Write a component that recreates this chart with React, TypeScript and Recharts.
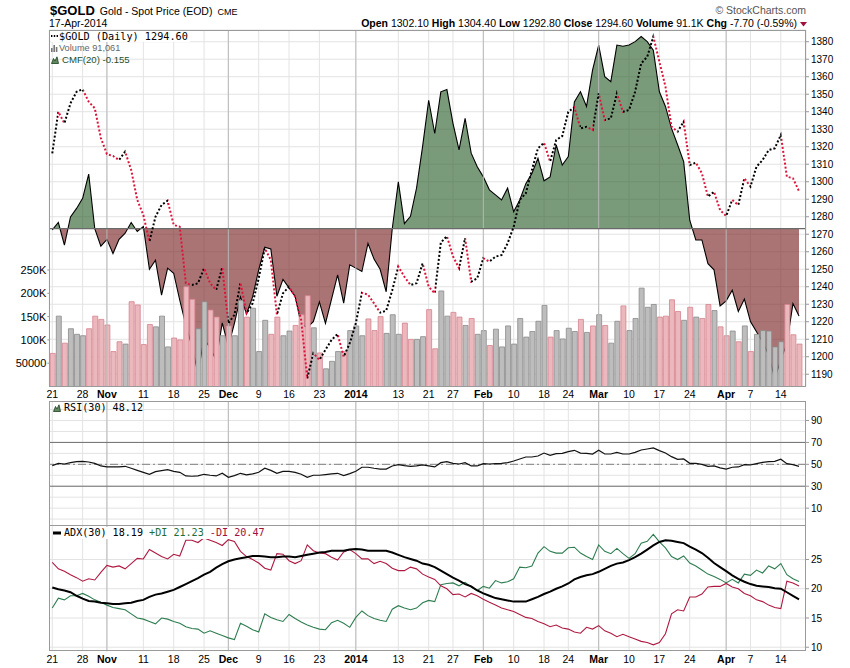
import React from 'react'
import { ComposedChart, Line, Bar, Area, Cell, XAxis, YAxis, CartesianGrid, ReferenceLine } from 'recharts'

// $GOLD daily, 21-Oct-2013 .. 17-Apr-2014 (trading days, US holidays skipped)
const close = [
  1316.2, 1340, 1333.4, 1344.8, 1351.4, 1352.8, 1345.7, 1342, 1325, 1315.8,
  1314.7, 1312.4, 1317.2, 1306.7, 1289.6, 1281, 1265.8, 1280, 1286.7, 1289.2,
  1275.3, 1274.3, 1242, 1241, 1242, 1250.6, 1242, 1238.2, 1251.1, 1219.1,
  1223.9, 1242.3, 1224.8, 1230.5, 1244.8, 1262, 1255.3, 1224, 1236.3, 1240,
  1234.3, 1221, 1187.7, 1202, 1198.2, 1204, 1209.6, 1213, 1200, 1207.7,
  1219.1, 1236.5, 1235.5, 1230.5, 1225.2, 1226.3, 1238, 1251.5, 1245.7, 1241,
  1242, 1253.4, 1240, 1236.3, 1265.2, 1268.9, 1257.4, 1250.6, 1267.8, 1242.9,
  1244.8, 1256.3, 1254.4, 1257.2, 1258.1, 1264.8, 1274.3, 1289.6, 1293.4, 1306.7,
  1319.1, 1322.3, 1311.5, 1323.8, 1326.1, 1340, 1342.5, 1330.5, 1331.4, 1329.6,
  1350.5, 1335.3, 1336.2, 1350.5, 1340, 1341, 1351.4, 1367.6, 1371.4, 1382.9,
  1368.6, 1354.3, 1331.4, 1328.6, 1334.3, 1309.5, 1310.9, 1304.8, 1291.5, 1294.3,
  1283.8, 1280.4, 1289.6, 1286.7, 1302, 1297.2, 1308.6, 1312.4, 1318.1, 1319.1,
  1326.7, 1302.9, 1302, 1294.6,
]
const priorClose = 1318

// thousands of contracts
const volume = [
  71, 151, 93, 124, 112, 109, 124, 151, 144, 132,
  75, 96, 91, 182, 175, 90, 133, 128, 151, 85,
  104, 100, 214, 187, 124, 182, 164, 149, 109, 130,
  109, 185, 149, 168, 75, 142, 112, 149, 109, 119,
  131, 154, 195, 126, 72, 38, 54, 75, 75, 120,
  130, 109, 145, 120, 150, 114, 154, 112, 136, 101,
  101, 107, 165, 81, 205, 151, 159, 149, 131, 146,
  112, 120, 88, 123, 85, 130, 91, 146, 106, 118,
  140, 174, 106, 120, 102, 125, 118, 144, 116, 130,
  154, 131, 93, 140, 173, 120, 146, 211, 170, 176,
  149, 151, 186, 161, 142, 170, 149, 146, 176, 163,
  128, 109, 119, 96, 130, 75, 112, 120, 119, 85,
  96, 176, 111, 91.061,
]

const cmf = [
  -0.002, 0.011, -0.029, 0.021, 0.036, 0.054, 0.097, 0.0, -0.031, -0.019,
  -0.044, -0.019, -0.008, 0.011, -0.005, 0.004, -0.072, -0.056, -0.118, -0.07,
  -0.079, -0.127, -0.171, -0.209, -0.257, -0.195, -0.212, -0.233, -0.167, -0.209,
  -0.168, -0.121, -0.151, -0.121, -0.073, -0.033, -0.036, -0.12, -0.09, -0.105,
  -0.12, -0.17, -0.175, -0.165, -0.13, -0.168, -0.125, -0.082, -0.132, -0.064,
  -0.07, -0.076, -0.026, -0.054, -0.072, -0.112, 0.0, 0.083, 0.009, 0.022,
  0.072, 0.146, 0.228, 0.169, 0.243, 0.247, 0.187, 0.14, 0.196, 0.134,
  0.11, 0.092, 0.069, 0.06, 0.051, 0.072, 0.03, 0.051, 0.08, 0.098,
  0.125, 0.085, 0.092, 0.149, 0.113, 0.128, 0.225, 0.243, 0.217, 0.282,
  0.326, 0.27, 0.261, 0.326, 0.324, 0.326, 0.332, 0.341, 0.332, 0.317,
  0.243, 0.217, 0.178, 0.149, 0.119, 0.015, -0.02, -0.02, -0.062, -0.073,
  -0.137, -0.128, -0.109, -0.147, -0.125, -0.165, -0.183, -0.201, -0.224, -0.266,
  -0.233, -0.204, -0.133, -0.155,
]

const rsi = [
  48.8, 50.9, 50.3, 51.5, 52.4, 52.7, 52.1, 50.9, 48.5, 47.6,
  47.6, 47.6, 48.2, 46.4, 44.5, 42.7, 40.9, 43.3, 44.2, 45.1,
  43.6, 42.7, 39.4, 39.1, 39.4, 40.9, 40.0, 39.4, 41.8, 38.1,
  39.7, 41.8, 40.3, 41.2, 42.7, 46.4, 44.5, 41.8, 43.6, 43.6,
  42.7, 40.9, 38.1, 40.0, 40.0, 40.6, 41.2, 41.8, 39.7, 41.5,
  43.6, 47.3, 47.3, 46.4, 45.7, 45.7, 48.5, 49.7, 48.8, 48.2,
  48.5, 49.4, 48.5, 47.6, 51.5, 52.4, 50.9, 50.3, 51.5, 48.5,
  48.5, 50.6, 50.3, 50.6, 50.9, 51.5, 53.0, 54.9, 56.7, 56.7,
  57.6, 60.3, 58.2, 59.7, 60.0, 61.6, 62.8, 60.3, 60.0, 59.4,
  62.8, 59.4, 59.4, 60.9, 59.4, 59.4, 60.9, 63.1, 64.0, 64.9,
  62.5, 60.3, 57.0, 54.6, 54.9, 50.9, 50.9, 50.0, 48.2, 48.5,
  46.7, 45.7, 47.3, 47.6, 49.7, 49.4, 50.6, 51.8, 52.4, 52.7,
  54.6, 50.6, 49.7, 48.12,
]

const adx = [
  20.2, 19.9, 19.7, 19.4, 18.8, 18.3, 17.9, 17.8, 17.6, 17.5,
  17.4, 17.4, 17.5, 17.6, 17.9, 18.1, 18.6, 19.0, 19.2, 19.5,
  19.8, 20.3, 20.8, 21.3, 21.8, 22.4, 22.9, 23.6, 24.2, 24.7,
  25.0, 25.2, 25.4, 25.6, 25.6, 25.5, 25.4, 25.4, 25.5, 25.5,
  25.4, 25.6, 25.8, 26.0, 26.2, 26.3, 26.5, 26.5, 26.5, 26.7,
  26.8, 26.7, 26.5, 26.5, 26.5, 26.5, 26.2, 25.8, 25.4, 25.1,
  24.8, 24.3, 24.1, 23.7, 23.1, 22.5, 21.9, 21.4, 20.8, 20.4,
  19.7, 19.2, 18.8, 18.4, 18.2, 18.0, 17.8, 17.8, 17.8, 18.2,
  18.6, 19.1, 19.5, 20.0, 20.4, 20.9, 21.6, 22.0, 22.3, 22.5,
  22.9, 23.4, 23.9, 24.3, 24.5, 24.9, 25.4, 26.0, 26.7, 27.4,
  28.0, 28.3, 28.2, 28.0, 27.8, 27.2, 26.7, 26.1, 25.3, 24.4,
  23.7, 23.0, 22.3, 21.7, 21.2, 20.8, 20.5, 20.4, 20.3, 20.1,
  20.0, 19.4, 18.8, 18.19,
]

const plusDI = [
  16.7, 18.4, 18.1, 18.8, 18.8, 19.2, 18.7, 18.1, 17.7, 17.2,
  16.8, 16.6, 16.4, 15.7, 15.0, 14.8, 14.4, 14.0, 15.0, 14.8,
  14.4, 14.1, 13.5, 13.2, 13.1, 12.4, 12.8, 12.4, 12.0, 11.6,
  11.3, 14.1, 13.6, 13.0, 12.6, 15.7, 15.1, 14.7, 14.4, 15.6,
  14.9, 14.3, 13.8, 13.4, 13.1, 13.0, 14.2, 14.6, 14.1, 13.4,
  15.1, 16.2, 15.4, 14.9, 14.6, 14.4, 16.5, 17.1, 16.7, 16.4,
  16.7, 17.6, 18.0, 17.8, 20.7, 20.9, 21.0, 20.5, 21.1, 20.3,
  19.7, 20.4, 20.1, 21.4, 21.0, 21.2, 21.7, 23.7, 23.6, 23.9,
  26.1, 27.2, 26.4, 26.1, 26.1, 27.0, 27.1, 26.1, 25.5, 25.0,
  27.5, 26.4, 26.0, 26.9, 26.0, 25.2, 26.0, 27.8, 28.1, 29.3,
  28.0, 27.0, 25.5, 25.0, 25.6, 24.4, 23.9, 23.2, 22.5, 22.1,
  21.6, 21.0, 21.6, 21.0, 22.5, 22.3, 23.2, 22.7, 23.9, 23.4,
  24.3, 22.4, 21.7, 21.23,
]

const minusDI = [
  24.5, 23.4, 23.0, 22.4, 21.9, 21.3, 21.7, 21.5, 22.8, 24.0,
  23.7, 23.9, 23.4, 24.3, 25.2, 25.1, 26.7, 26.1, 25.5, 25.1,
  25.9, 25.6, 28.3, 28.3, 27.9, 28.7, 28.3, 27.9, 27.4, 28.4,
  28.1, 26.4, 25.5, 25.0, 24.4, 23.5, 23.2, 26.0, 25.9, 24.8,
  24.3, 24.8, 27.5, 26.5, 26.1, 26.0, 25.4, 24.9, 26.3, 26.7,
  26.0, 25.1, 25.1, 24.3, 24.7, 24.3, 23.5, 23.1, 23.1, 23.7,
  23.4, 22.5, 22.0, 21.6, 20.5, 20.0, 19.0, 19.1, 18.6, 19.2,
  18.8, 18.2, 17.7, 17.2, 16.7, 16.4, 16.1, 15.6, 15.1, 14.9,
  14.4, 14.0, 13.5, 13.8, 13.3, 13.1, 12.6, 12.4, 13.4, 13.1,
  13.7, 12.8, 12.4, 11.8, 12.2, 11.8, 11.4, 11.0, 10.8, 10.4,
  10.8, 12.3, 15.7, 16.4, 16.2, 18.6, 18.6, 19.1, 20.3, 20.4,
  20.4, 20.9, 20.3, 20.0, 19.2, 18.8, 18.1, 17.8, 17.2, 16.8,
  16.6, 21.3, 21.0, 20.47,
]

// x-axis ticks: index into the trading-day list
const tickIdx = [0, 5, 9, 15, 20, 25, 29, 34, 39, 44, 50, 57, 62, 66, 71, 76, 81, 85, 90, 95, 100, 105, 111, 115, 120]
const tickText = ['21', '28', 'Nov', '11', '18', '25', 'Dec', '9', '16', '23', '2014', '13', '21', '27', 'Feb', '10', '18', '24', 'Mar', '10', '17', '24', 'Apr', '7', '14']
const monthIdx = [9, 29, 50, 71, 90, 111]

const priceTicks = [1190, 1200, 1210, 1220, 1230, 1240, 1250, 1260, 1270, 1280, 1290, 1300, 1310, 1320, 1330, 1340, 1350, 1360, 1370, 1380]
const volTicks = [50000, 100000, 150000, 200000, 250000]
const rsiTicks = [10, 30, 50, 70, 90]
const rsiGrid = [0, 10, 20, 30, 40, 50, 60, 70, 80, 90, 100]
const adxTicks = [10, 15, 20, 25]

const UP = '#000000'
const DOWN = '#dc143c'
const sans = '"Liberation Sans", Arial, sans-serif'
const mono = '"DejaVu Sans Mono", monospace'
const X_DOMAIN = [-0.49, 124.15]
const GRID = '#e3e3e3'
const MONTH = '#b9b9b9'

const rows = close.map((c, i) => ({
  i,
  close: c,
  vol: volume[i] * 1000,
  cmf: cmf[i],
  rsi: rsi[i],
  adx: adx[i],
  pdi: plusDI[i],
  mdi: minusDI[i],
  up: c >= (i === 0 ? priorClose : close[i - 1]),
}))

const n = rows.length
const priceStops: React.ReactNode[] = []
for (let k = 1; k < n; k++) {
  const col = rows[k].up ? UP : DOWN
  priceStops.push(<stop key={'a' + k} offset={(k - 1) / (n - 1)} stopColor={col} />)
  priceStops.push(<stop key={'b' + k} offset={k / (n - 1)} stopColor={col} />)
}
const cmfMax = Math.max(...cmf)
const cmfMin = Math.min(...cmf)
const cmfOff = cmfMax / (cmfMax - cmfMin)

const DateTick = (props: any) => {
  const { x, y, payload } = props
  const k = tickIdx.indexOf(payload.value)
  const bold = monthIdx.includes(payload.value)
  return (
    <text x={x} y={y} dy="0.71em" textAnchor="middle" fontSize={10.5} fontFamily={sans}
      fontWeight={bold ? 'bold' : 'normal'} fill="#000">
      {tickText[k]}
    </text>
  )
}

const volFmt = (v: number) => (v >= 100000 ? v / 1000 + 'K' : String(v))

const vGrid = () => [
  ...tickIdx.map((t) => <ReferenceLine key={'g' + t} x={t} stroke={GRID} />),
  ...monthIdx.map((t) => <ReferenceLine key={'m' + t} x={t} stroke={MONTH} />),
]

const Frame = ({ top, height }: { top: number; height: number }) => (
  <div style={{ position: 'absolute', left: 49, top, width: 757, height, border: '1px solid #9a9a9a', boxSizing: 'border-box', pointerEvents: 'none' }} />
)

const Mountain = () => (
  <svg width={8} height={8} style={{ marginRight: 3, verticalAlign: '-1px' }}>
    <path d="M0.5,7.5 L2.5,2.5 L4,5 L6,0.8 L7.5,7.5 Z" fill="#5f8a5f" stroke="#1d3d1d" strokeWidth={0.8} />
  </svg>
)

export default function App() {
  return (
    <div style={{ position: 'absolute', left: 0, top: 0, width: 850, height: 668, background: '#fff', fontFamily: sans, overflow: 'hidden' }}>
      {/* header */}
      <div style={{ position: 'absolute', left: 50, top: 2, whiteSpace: 'nowrap', lineHeight: '15px' }}>
        <span style={{ fontSize: 13, fontWeight: 'bold' }}>$GOLD</span>
        <span style={{ fontSize: 10.5, marginLeft: 5 }}>Gold - Spot Price (EOD)</span>
        <span style={{ fontSize: 9, marginLeft: 5 }}>CME</span>
      </div>
      <div style={{ position: 'absolute', left: 49, top: 17, fontSize: 10.5, lineHeight: '12px' }}>17-Apr-2014</div>
      <div style={{ position: 'absolute', right: 44, top: 4, fontSize: 10.5, lineHeight: '12px', color: '#555' }}>© StockCharts.com</div>
      <div style={{ position: 'absolute', right: 53, top: 17, fontSize: 10.5, lineHeight: '12px', whiteSpace: 'nowrap' }}>
        <b>Open</b> 1302.10 <b>High</b> 1304.40 <b>Low</b> 1292.80 <b>Close</b> 1294.60 <b>Volume</b> 91.1K <b>Chg</b> -7.70 (-0.59%)
      </div>
      <svg style={{ position: 'absolute', left: 800, top: 22 }} width={7} height={5}>
        <polygon points="0,0 7,0 3.5,4.5" fill="#a0103c" />
      </svg>

      {/* price / volume / CMF panel */}
      <div style={{ position: 'absolute', left: 0, top: 0 }}>
        <ComposedChart width={850} height={400} data={rows} margin={{ top: 30, right: 0, bottom: 0, left: 0 }}>
          <defs>
            <linearGradient id="priceStroke" x1="0" y1="0" x2="1" y2="0">
              {priceStops}
            </linearGradient>
            <linearGradient id="cmfFill" x1="0" y1="0" x2="0" y2="1">
              <stop offset={0} stopColor="#2f622f" stopOpacity={0.64} />
              <stop offset={cmfOff} stopColor="#2f622f" stopOpacity={0.64} />
              <stop offset={cmfOff} stopColor="#7c2626" stopOpacity={0.64} />
              <stop offset={1} stopColor="#7c2626" stopOpacity={0.64} />
            </linearGradient>
          </defs>
          <CartesianGrid stroke={GRID} vertical={true} />
          <XAxis type="number" dataKey="i" domain={X_DOMAIN} ticks={tickIdx} interval={0} allowDataOverflow
            tick={DateTick} tickLine={false} axisLine={false} tickSize={0} tickMargin={4} height={13.5} />
          <YAxis orientation="right" width={44} domain={[1183, 1386.7]} ticks={priceTicks} interval={0} allowDataOverflow
            axisLine={false} tickSize={3} tickMargin={2} tickLine={{ stroke: '#999' }}
            tick={{ fontSize: 10, fill: '#000', fontFamily: sans }} />
          <YAxis yAxisId="vol" orientation="left" width={49.3} domain={[0, 765000]} ticks={volTicks} interval={0} allowDataOverflow
            axisLine={false} tickSize={2} tickMargin={1} tickLine={{ stroke: '#999' }} tickFormatter={volFmt}
            tick={{ fontSize: 11, fill: '#000', fontFamily: sans }} />
          <YAxis yAxisId="zcmf" orientation="right" width={0} hide domain={[-0.2801, 0.3527]} allowDataOverflow />
          {monthIdx.map((t) => (
            <ReferenceLine key={'mm' + t} x={t} stroke={MONTH} />
          ))}
          <Bar yAxisId="vol" dataKey="vol" barSize={5} isAnimationActive={false}>
            {rows.map((r) => (
              <Cell key={r.i} fill={r.up ? '#bdbdbd' : '#eab8bd'} stroke={r.up ? '#8a8a8a' : '#d7838e'} strokeWidth={0.8} />
            ))}
          </Bar>
          <Area yAxisId="zcmf" dataKey="cmf" type="linear" baseValue={0} fill="url(#cmfFill)" fillOpacity={1} stroke="#000"
            strokeWidth={1.1} dot={false} activeDot={false} isAnimationActive={false} />
          <ReferenceLine yAxisId="zcmf" y={0} stroke="#6a6a6a" strokeWidth={1.2} />
          <Line dataKey="close" type="linear" stroke="url(#priceStroke)" strokeWidth={2} strokeDasharray="2 2"
            dot={false} activeDot={false} isAnimationActive={false} />
        </ComposedChart>
      </div>

      {/* RSI panel */}
      <div style={{ position: 'absolute', left: 0, top: 401 }}>
        <ComposedChart width={850} height={124} data={rows} margin={{ top: 0, right: 0, bottom: 0, left: 49.3 }}>
          <XAxis type="number" dataKey="i" domain={X_DOMAIN} allowDataOverflow hide />
          <YAxis orientation="right" width={44} domain={[-5.4, 107.8]} ticks={rsiTicks} interval={0} allowDataOverflow
            axisLine={false} tickSize={3} tickMargin={2} tickLine={{ stroke: '#999' }}
            tick={{ fontSize: 10, fill: '#000', fontFamily: sans }} />
          {rsiGrid.map((v) => (
            <ReferenceLine key={'h' + v} y={v} stroke={GRID} />
          ))}
          {vGrid()}
          <ReferenceLine y={70} stroke="#707070" />
          <ReferenceLine y={30} stroke="#707070" />
          <ReferenceLine y={50} stroke="#808080" strokeDasharray="8 3 2 3" />
          <Line dataKey="rsi" type="linear" stroke="#111" strokeWidth={1.2} dot={false} activeDot={false} isAnimationActive={false} />
        </ComposedChart>
      </div>

      {/* ADX panel */}
      <div style={{ position: 'absolute', left: 0, top: 525.5 }}>
        <ComposedChart width={850} height={141} data={rows} margin={{ top: 0, right: 0, bottom: 0, left: 49.3 }}>
          <XAxis type="number" dataKey="i" domain={X_DOMAIN} ticks={tickIdx} interval={0} allowDataOverflow
            tick={DateTick} tickLine={false} axisLine={false} tickSize={0} tickMargin={4.5} height={15.8} />
          <YAxis orientation="right" width={44} domain={[9.32, 30.73]} ticks={adxTicks} interval={0} allowDataOverflow
            axisLine={false} tickSize={3} tickMargin={2} tickLine={{ stroke: '#999' }}
            tick={{ fontSize: 10, fill: '#000', fontFamily: sans }} />
          {adxTicks.map((v) => (
            <ReferenceLine key={'h' + v} y={v} stroke={GRID} />
          ))}
          {vGrid()}
          <Line dataKey="pdi" type="linear" stroke="#2d7d50" strokeWidth={1.1} dot={false} activeDot={false} isAnimationActive={false} />
          <Line dataKey="mdi" type="linear" stroke="#af1941" strokeWidth={1.1} dot={false} activeDot={false} isAnimationActive={false} />
          <Line dataKey="adx" type="linear" stroke="#000" strokeWidth={2} dot={false} activeDot={false} isAnimationActive={false} />
        </ComposedChart>
      </div>

      <Frame top={30} height={357} />
      <Frame top={401} height={125} />
      <Frame top={525} height={126} />

      {/* main legend */}
      <div style={{ position: 'absolute', left: 51, top: 30.5, fontFamily: mono, fontSize: 10.2, lineHeight: '11.9px', background: '#fff', whiteSpace: 'nowrap', paddingRight: 2 }}>
        <svg width={7} height={4} style={{ marginRight: 1, verticalAlign: '2px' }}>
          <line x1={0} y1={2} x2={7} y2={2} stroke="#000" strokeWidth={2} strokeDasharray="1.4 1.4" />
        </svg>
        $GOLD (Daily) 1294.60
      </div>
      <div style={{ position: 'absolute', left: 51, top: 42.5, fontSize: 9.2, lineHeight: '10.6px', color: '#666', whiteSpace: 'nowrap' }}>
        <svg width={7} height={7} style={{ marginRight: 1, verticalAlign: '-1px' }}>
          <rect x={0} y={3} width={1.6} height={4} fill="#777" />
          <rect x={2.4} y={0} width={1.6} height={7} fill="#777" />
          <rect x={4.8} y={2} width={1.6} height={5} fill="#777" />
        </svg>
        Volume 91,061
      </div>
      <div style={{ position: 'absolute', left: 51, top: 53.5, fontSize: 9.6, lineHeight: '11px', color: '#1f4f1f', whiteSpace: 'nowrap' }}>
        <Mountain />CMF(20) -0.155
      </div>

      {/* RSI legend */}
      <div style={{ position: 'absolute', left: 53, top: 402, fontFamily: mono, fontSize: 10.1, lineHeight: '12px', whiteSpace: 'nowrap' }}>
        <Mountain />RSI(30) 48.12
      </div>

      {/* ADX legend */}
      <div style={{ position: 'absolute', left: 53, top: 527, fontFamily: mono, fontSize: 10.1, lineHeight: '12px', whiteSpace: 'nowrap', background: '#fff', paddingRight: 2 }}>
        <svg width={9} height={4} style={{ marginRight: 2, verticalAlign: '1px' }}>
          <rect x={0} y={0.5} width={8} height={3} fill="#000" />
        </svg>
        ADX(30) 18.19 <span style={{ color: '#1e6e3c' }}>+DI 21.23</span> <span style={{ color: '#a0103c' }}>-DI 20.47</span>
      </div>
    </div>
  )
}
